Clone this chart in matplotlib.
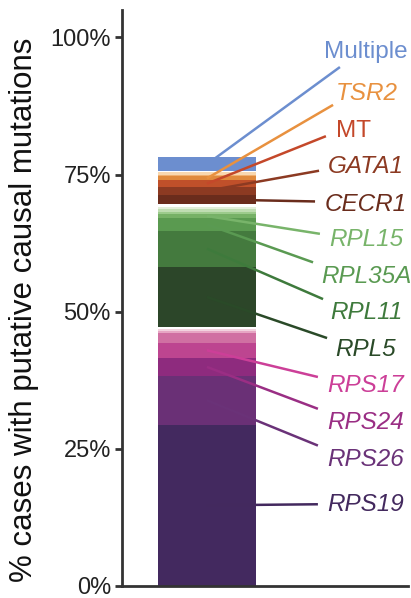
import matplotlib.pyplot as plt

# stacked segments, bottom to top (% of cases)
genes = ["RPS19", "RPS26", "RPS24", "RPS17", "RPS_o1", "RPS_o2", "RPS_o3", "RPS_o4",
         "RPL5", "RPL11", "RPL35A", "RPL15", "RPL_o1", "RPL_o2", "RPL_o3", "RPL_o4",
         "CECR1", "GATA1", "MT", "TSR2", "oth_o1", "oth_o2", "oth_o3", "Multiple"]
values = [29.4, 8.9, 3.27, 2.8, 1.7, 0.36, 0.36, 0.36,
          11.07, 6.53, 2.3, 0.78, 0.42, 0.49, 0.42, 0.49,
          1.69, 1.40, 1.20, 0.73, 0.31, 0.42, 0.18, 2.61]
colors = ["#43295f", "#6a3076", "#8e2b7e", "#bd4590", "#d070a2", "#e6a6c3", "#f2d2de", "#ffffff",
          "#2c4629", "#447a3e", "#5a9a50", "#76b166", "#9ccb8c", "#bfddb2", "#e2efd9", "#ffffff",
          "#6a2c1c", "#8c3a22", "#c0502a", "#e08a3c", "#f0b070", "#f8d8b0", "#ffffff", "#6c8ecf"]

# labelled genes with label colours
labels = ["Multiple", "TSR2", "MT", "GATA1", "CECR1", "RPL15", "RPL35A", "RPL11",
          "RPL5", "RPS17", "RPS24", "RPS26", "RPS19"]
label_colors = ["#6c8ecf", "#e8913f", "#c4482a", "#8c3a22", "#6a2c1c", "#78b46a", "#5a9a52",
                "#3e7a3c", "#2a4a28", "#cc3f98", "#9a2e84", "#6a3278", "#43295e"]
italic = [False, True, False, True, True, True, True, True, True, True, True, True, True]

# label placement (y in %, x in axes fraction)
text_y = [97.3, 89.8, 82.9, 76.4, 69.5, 63.2, 56.4, 49.9, 43.2, 36.5, 29.8, 23.0, 14.9]
text_x = [0.853, 0.857, 0.808, 0.853, 0.853, 0.853, 0.853, 0.853, 0.853, 0.853, 0.853, 0.853, 0.853]
end_y = [94.6, 87.7, 82.0, 75.7, 70.1, 64.2, 59.0, 52.3, 45.2, 38.1, 32.3, 25.6, 14.9]
end_x = [0.762, 0.738, 0.713, 0.689, 0.675, 0.692, 0.668, 0.703, 0.717, 0.685, 0.685, 0.685, 0.685]

plt.rcParams["font.family"] = ["Liberation Sans", "DejaVu Sans"]

fig = plt.figure(figsize=(4.11, 5.98), dpi=100)
ax = fig.add_axes([122 / 411, 12 / 598, 286 / 411, 576 / 598])

bar_x = 0.297
bar_w = 0.343
trans = ax.get_yaxis_transform()

bottom = 0
mids = {}
for g, v, c in zip(genes, values, colors):
    ax.bar(bar_x, v, bottom=bottom, width=bar_w, color=c, linewidth=0, transform=trans)
    mids[g] = bottom + v / 2
    bottom += v

# leader lines and labels
for lab, col, it, ty, tx, ey, ex in zip(labels, label_colors, italic, text_y, text_x, end_y, end_x):
    ax.plot([bar_x, ex], [mids[lab], ey], color=col, lw=1.8, transform=trans,
            clip_on=False, solid_capstyle="butt")
    ax.text(tx, ty, lab, color=col, fontsize=17.5, ha="center", va="center",
            style="italic" if it else "normal", transform=trans)

ax.set_xlim(0, 1)
ax.set_ylim(0, 105)
ax.set_yticks([0, 25, 50, 75, 100])
ax.set_yticklabels(["0%", "25%", "50%", "75%", "100%"])
ax.set_xticks([])
ax.tick_params(axis="y", length=5, width=2, color="#333333", labelsize=17,
               labelcolor="#222222", pad=3)
for s in ["top", "right"]:
    ax.spines[s].set_visible(False)
for s in ["left", "bottom"]:
    ax.spines[s].set_linewidth(2)
    ax.spines[s].set_color("#333333")
ax.set_ylabel("% cases with putative causal mutations", fontsize=22.5, color="#111111")
ax.yaxis.set_label_coords(-0.29, 0.479)

fig.savefig("out.png", dpi=100)
